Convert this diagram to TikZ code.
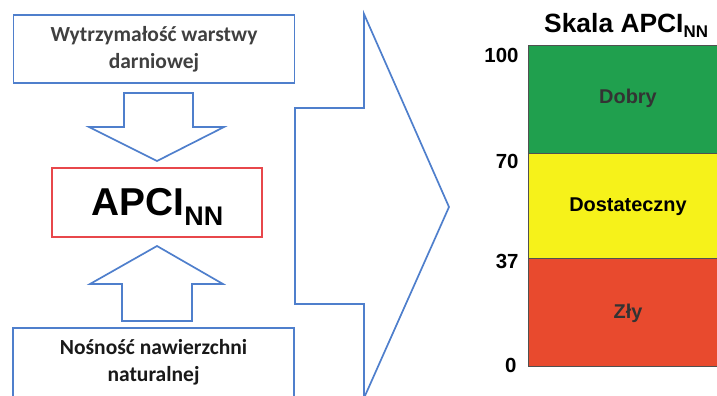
\documentclass[tikz,border=0pt]{standalone}
\usepackage{fontspec}
\setmainfont{Carlito}[BoldFont={Carlito Bold}]
\newfontfamily\arialfont{Liberation Sans}
\definecolor{flowblue}{HTML}{4F7FCC}
\definecolor{flowred}{HTML}{E8474B}
\definecolor{goodgreen}{HTML}{20A04E}
\definecolor{midyellow}{HTML}{F6F21A}
\definecolor{badred}{HTML}{E84A2E}
\definecolor{bandline}{HTML}{505050}
\begin{document}
\begin{tikzpicture}[x=1bp,y=-1bp,
  inbox/.style={draw=flowblue,line width=1.8bp,minimum width=281bp,minimum height=68bp,
    align=center,font=\bfseries\fontsize{21.6}{27.5}\selectfont,inner sep=0pt},
  blockarrow/.style={draw=flowblue,line width=1.7bp,line join=miter},
  scalenum/.style={anchor=base east,font=\arialfont\bfseries\fontsize{20.5}{20.5}\selectfont},
  bandtext/.style={anchor=base,font=\arialfont\bfseries\fontsize{20}{20}\selectfont}]
\useasboundingbox (0,0) rectangle (717,395);

% input boxes
\node[inbox,text=black!75] (strength) at (154,49) {Wytrzymałość warstwy\\darniowej};
\node[inbox,text=black!90,minimum height=69bp] (bearing) at (153.5,362.5) {Nośność nawierzchni\\naturalnej};

% index box
\node[draw=flowred,line width=1.7bp,minimum width=210bp,minimum height=69bp] (apci) at (157,202.5) {};
\node[anchor=base,inner sep=0pt,font=\arialfont\bfseries\fontsize{39}{39}\selectfont]
  (apcitext) at (157.5,215) {APCI\raisebox{-10bp}{\fontsize{27}{27}\selectfont NN}};

% block arrows into the index box
\draw[blockarrow] (124,93) -- (193,93) -- (193,127) -- (224,127) -- (157,161)
  -- (89,127) -- (124,127) -- cycle;
\draw[blockarrow] (122,321) -- (192,321) -- (192,284) -- (223,284) -- (157,246)
  -- (90,284) -- (122,284) -- cycle;

% large arrow towards the scale
\draw[blockarrow] (295,108) -- (364,108) -- (364,14) -- (449,207) -- (364,398)
  -- (364,304) -- (295,304) -- cycle;

% rating scale
\node[anchor=base west,inner sep=0pt,font=\arialfont\bfseries\fontsize{26.5}{26.5}\selectfont]
  (scaletitle) at (544,32) {Skala APCI\raisebox{-5bp}{\fontsize{17}{17}\selectfont NN}};
\fill[goodgreen] (528,45) rectangle (730,153);
\fill[midyellow] (528,153) rectangle (730,258);
\fill[badred] (528,258) rectangle (730,366);
\draw[bandline,line width=0.9bp] (730,45) -- (528,45) -- (528,366) -- (730,366);
\draw[bandline,line width=0.9bp] (528,153) -- (730,153);
\draw[bandline,line width=0.9bp] (528,258) -- (730,258);

\node[scalenum] (n100) at (522,62) {100};
\node[scalenum] (n70) at (522,168) {70};
\node[scalenum] (n37) at (522,268) {37};
\node[scalenum] (n0) at (520,372) {0};

\node[bandtext,text=black!80] (good) at (628,103) {Dobry};
\node[bandtext,text=black] (fair) at (628,211) {Dostateczny};
\node[bandtext,text=black!80] (bad) at (628,318) {Zły};
\end{tikzpicture}
\end{document}
